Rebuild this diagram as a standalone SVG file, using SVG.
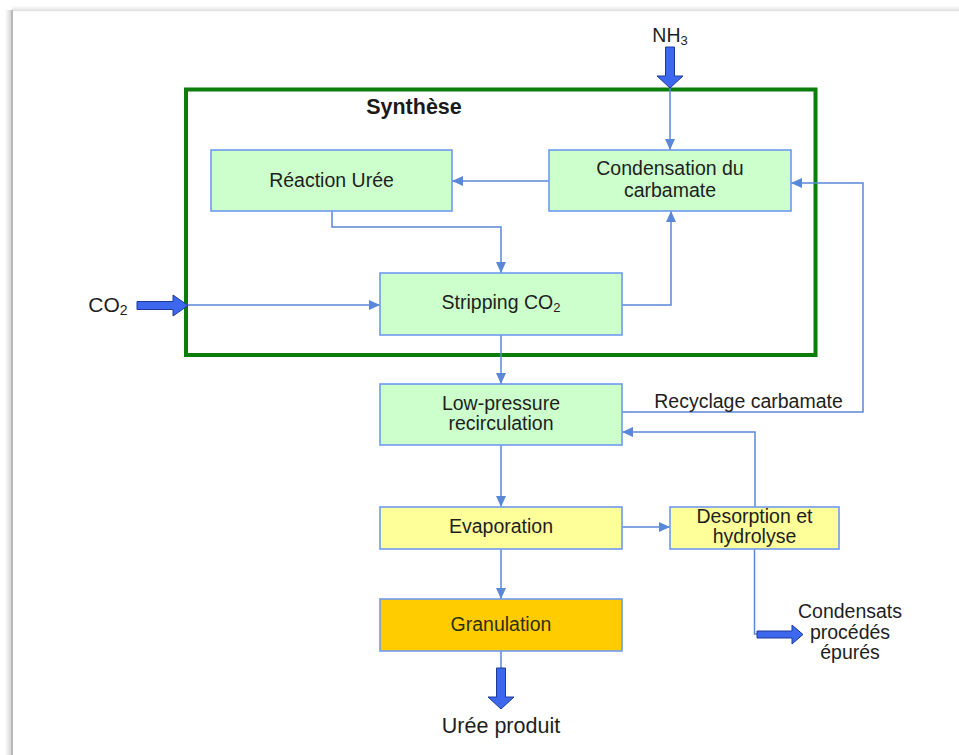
<svg xmlns="http://www.w3.org/2000/svg" width="959" height="755" viewBox="0 0 959 755">
<style>
.box{stroke:#6f9af0;stroke-width:1.6}
.g{fill:#ccffcc}.y{fill:#ffff99}.o{fill:#ffcc00}
.t{font-family:"Liberation Sans",Arial,sans-serif;font-size:19.5px;fill:#1e1e1e;text-anchor:middle}
.c{fill:none;stroke:#5a88d8;stroke-width:1.5}
.big{fill:#3d68ee;stroke:#1d3a96;stroke-width:1}
</style>
<defs>
<marker id="ah" markerUnits="userSpaceOnUse" markerWidth="12" markerHeight="11" refX="11" refY="5" orient="auto">
<path d="M0,0 L11,5 L0,10 z" fill="#5a88d8"/>
</marker>
<linearGradient id="sh" x1="0" y1="0" x2="1" y2="0">
<stop offset="0" stop-color="#ffffff"/><stop offset="1" stop-color="#cfcfcf"/>
</linearGradient>
<linearGradient id="sht" x1="0" y1="0" x2="0" y2="1">
<stop offset="0" stop-color="#ffffff"/><stop offset="1" stop-color="#e4e4e4"/>
</linearGradient>
</defs>
<rect width="959" height="755" fill="#ffffff"/>
<g id="page">
<rect x="12" y="6" width="947" height="4" fill="url(#sht)"/>
<rect x="5" y="10" width="7" height="745" fill="url(#sh)"/>
<line x1="12" y1="10.5" x2="959" y2="10.5" stroke="#e2e2e2" stroke-width="1.5"/>
<line x1="12" y1="10" x2="12" y2="755" stroke="#b9b9b9" stroke-width="2"/>
</g>
<g id="synthese">
<rect x="186" y="89.5" width="629.5" height="265.5" fill="none" stroke="#0b7d0b" stroke-width="4"/>
<text x="414" y="114" style="font-family:'Liberation Sans',Arial,sans-serif;font-size:21.5px;font-weight:bold;fill:#1a1a1a" text-anchor="middle">Synthèse</text>
</g>
<g id="connectors">
<line class="c" x1="670" y1="88" x2="670" y2="150" marker-end="url(#ah)"/>
<line class="c" x1="549" y1="181" x2="452" y2="181" marker-end="url(#ah)"/>
<polyline class="c" points="332,211 332,227 501,227 501,273" marker-end="url(#ah)"/>
<line class="c" x1="187" y1="305" x2="380" y2="305" marker-end="url(#ah)"/>
<polyline class="c" points="622,305 671,305 671,211" marker-end="url(#ah)"/>
<line class="c" x1="501" y1="335" x2="501" y2="384" marker-end="url(#ah)"/>
<polyline class="c" points="622,412 863,412 863,183 791,183" marker-end="url(#ah)"/>
<polyline class="c" points="755,507 755,432 622,432" marker-end="url(#ah)"/>
<line class="c" x1="501" y1="445" x2="501" y2="507" marker-end="url(#ah)"/>
<line class="c" x1="622" y1="527" x2="670" y2="527" marker-end="url(#ah)"/>
<line class="c" x1="501" y1="549" x2="501" y2="599" marker-end="url(#ah)"/>
<line class="c" x1="501" y1="651" x2="501" y2="669"/>
<polyline class="c" points="754.5,549 754.5,634 758,634"/>
<polygon class="big" points="665.5,47 674.5,47 674.5,76 683,76 670,88 657,76 665.5,76"/>
<polygon class="big" points="137,301.5 173,301.5 173,295 188,305.5 173,316 173,309.5 137,309.5"/>
<polygon class="big" points="496.5,668 505.5,668 505.5,697 514,697 501,709 488,697 496.5,697"/>
<polygon class="big" points="757,631 792,631 792,625 803,634.5 792,644 792,638 757,638"/>
</g>
<g id="labels">
<text class="t" x="670" y="42">NH<tspan font-size="13" dy="3">3</tspan></text>
<text class="t" x="108" y="311.5" style="font-size:21px">CO<tspan font-size="14" dy="3">2</tspan></text>
<text class="t" x="748.5" y="408">Recyclage carbamate</text>
<text class="t" x="501" y="733" style="font-size:21.5px">Urée produit</text>
<text class="t" x="850" y="618">Condensats</text>
<text class="t" x="850" y="639">procédés</text>
<text class="t" x="850" y="659">épurés</text>
</g>
<g id="reaction-uree">
<rect class="box g" x="211" y="150" width="241" height="61"/>
<text class="t" x="331.5" y="187">Réaction Urée</text>
</g>
<g id="condensation">
<rect class="box g" x="549" y="150" width="242" height="61"/>
<text class="t" x="670" y="175">Condensation du</text>
<text class="t" x="670" y="197">carbamate</text>
</g>
<g id="stripping">
<rect class="box g" x="380" y="273" width="242" height="62"/>
<text class="t" x="501" y="309">Stripping CO<tspan font-size="13" dy="3">2</tspan></text>
</g>
<g id="low-pressure">
<rect class="box g" x="380" y="384" width="242" height="61"/>
<text class="t" x="501" y="410">Low-pressure</text>
<text class="t" x="501" y="430">recirculation</text>
</g>
<g id="evaporation">
<rect class="box y" x="380" y="507" width="242" height="42"/>
<text class="t" x="501" y="533">Evaporation</text>
</g>
<g id="desorption">
<rect class="box y" x="670" y="507" width="169" height="42"/>
<text class="t" x="754.5" y="523">Desorption et</text>
<text class="t" x="754.5" y="543">hydrolyse</text>
</g>
<g id="granulation">
<rect class="box o" x="380" y="599" width="242" height="52"/>
<text class="t" x="501" y="631" style="fill:#2f2f10">Granulation</text>
</g>
</svg>
